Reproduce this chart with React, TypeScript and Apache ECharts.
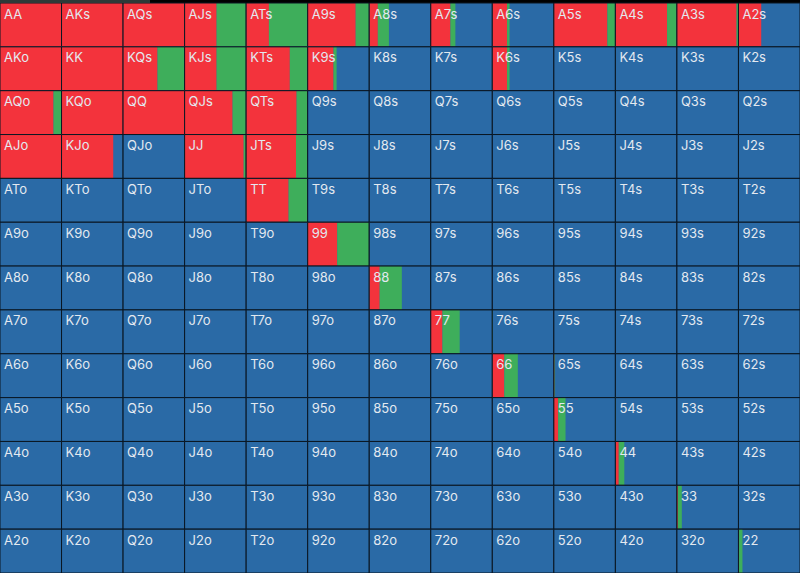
import React, { useEffect, useRef } from "react";
import * as echarts from "echarts";

const ranks = ["A", "K", "Q", "J", "T", "9", "8", "7", "6", "5", "4", "3", "2"];

// raise frequency per row (row = first rank index), columns = second rank index
const raiseRows: number[][] = [
  [1, 1, 1, 0.52, 0.37, 0.78, 0.14, 0.32, 0.24, 0.87, 0.84, 0.97, 0.37],
  [1, 1, 0.56, 0.52, 0.71, 0.42, 0, 0, 0.24, 0, 0, 0, 0],
  [0.87, 1, 1, 0.78, 0.82, 0, 0, 0, 0, 0, 0, 0, 0],
  [1, 0.84, 0, 0.96, 0.81, 0, 0, 0, 0, 0, 0, 0, 0],
  [0, 0, 0, 0, 0.69, 0, 0, 0, 0, 0, 0, 0, 0],
  [0, 0, 0, 0, 0, 0.48, 0, 0, 0, 0, 0, 0, 0],
  [0, 0, 0, 0, 0, 0, 0.17, 0, 0, 0, 0, 0, 0],
  [0, 0, 0, 0, 0, 0, 0, 0.19, 0, 0, 0, 0, 0],
  [0, 0, 0, 0, 0, 0, 0, 0, 0.195, 0.01, 0, 0, 0],
  [0, 0, 0, 0, 0, 0, 0, 0, 0, 0.07, 0, 0, 0],
  [0, 0, 0, 0, 0, 0, 0, 0, 0, 0, 0.055, 0, 0],
  [0, 0, 0, 0, 0, 0, 0, 0, 0, 0, 0, 0.015, 0],
  [0, 0, 0, 0, 0, 0, 0, 0, 0, 0, 0, 0, 0.01],
];

// call frequency
const callRows: number[][] = [
  [0, 0, 0, 0.48, 0.63, 0.22, 0.18, 0.08, 0.04, 0.13, 0.16, 0.03, 0],
  [0, 0, 0.44, 0.48, 0.29, 0.05, 0, 0, 0.04, 0, 0, 0, 0],
  [0.13, 0, 0, 0.22, 0.18, 0, 0, 0, 0, 0, 0, 0, 0],
  [0, 0, 0, 0.04, 0.19, 0, 0, 0, 0, 0, 0, 0, 0],
  [0, 0, 0, 0, 0.31, 0, 0, 0, 0, 0, 0, 0, 0],
  [0, 0, 0, 0, 0, 0.52, 0, 0, 0, 0, 0, 0, 0],
  [0, 0, 0, 0, 0, 0, 0.36, 0, 0, 0, 0, 0, 0],
  [0, 0, 0, 0, 0, 0, 0, 0.28, 0.01, 0, 0, 0, 0],
  [0, 0, 0, 0, 0, 0, 0, 0, 0.22, 0.01, 0, 0, 0],
  [0, 0, 0, 0, 0, 0, 0, 0, 0, 0.12, 0.01, 0, 0],
  [0, 0, 0, 0, 0, 0, 0, 0, 0, 0, 0.09, 0, 0],
  [0, 0, 0, 0, 0, 0, 0, 0, 0, 0, 0, 0.065, 0],
  [0, 0, 0, 0, 0, 0, 0, 0, 0, 0, 0, 0, 0.055],
];

const RED = "#f3333c";
const GREEN = "#3eae5b";
const BLUE = "#2a6aa6";
const LINE = "#0a1622";

function handLabel(row: number, col: number): string {
  if (row === col) return ranks[row] + ranks[col];
  if (col > row) return ranks[row] + ranks[col] + "s";
  return ranks[col] + ranks[row] + "o";
}

export default function App() {
  const ref = useRef<HTMLDivElement>(null);
  useEffect(() => {
    if (!ref.current) return;
    const chart = echarts.init(ref.current, null, { renderer: "svg" });
    const data: any[] = [];
    for (let r = 0; r < 13; r++) {
      for (let c = 0; c < 13; c++) {
        data.push([c, r, raiseRows[r][c], callRows[r][c], handLabel(r, c)]);
      }
    }
    chart.setOption({
      animation: false,
      backgroundColor: "#000000",
      grid: { left: 0, right: 0, top: 3, bottom: 0 },
      xAxis: { type: "category", data: ranks, show: false },
      yAxis: { type: "category", data: ranks, show: false, inverse: true },
      graphic: [
        { type: "rect", left: 0, top: 0, shape: { width: 150, height: 3 }, style: { fill: "#2d3a38" }, z: 10 },
      ],
      series: [
        {
          type: "custom",
          coordinateSystem: "cartesian2d",
          encode: { x: 0, y: 1 },
          data,
          renderItem: (params: any, api: any) => {
            const center = api.coord([api.value(0), api.value(1)]);
            const size = api.size([1, 1]);
            const w = size[0];
            const h = size[1];
            const x0 = center[0] - w / 2;
            const y0 = center[1] - h / 2;
            const raise = api.value(2) as number;
            const call = api.value(3) as number;
            const label = data[params.dataIndex][4];
            const rw = raise * w;
            const cw = call * w;
            return {
              type: "group",
              children: [
                { type: "rect", shape: { x: x0, y: y0, width: w, height: h }, style: { fill: BLUE } },
                { type: "rect", shape: { x: x0, y: y0, width: rw, height: h }, style: { fill: RED } },
                { type: "rect", shape: { x: x0 + rw, y: y0, width: cw, height: h }, style: { fill: GREEN } },
                {
                  type: "rect",
                  shape: { x: x0, y: y0, width: w, height: h },
                  style: { fill: "none", stroke: LINE, lineWidth: 1 },
                },
                {
                  type: "text",
                  x: x0 + 4,
                  y: y0 + 4,
                  style: {
                    text: label,
                    fill: "#e3e9f0",
                    font: "13px Inter, 'Noto Sans', sans-serif",
                    textVerticalAlign: "top",
                    textAlign: "left",
                  },
                },
              ],
            };
          },
        },
      ],
    });
    return () => chart.dispose();
  }, []);
  return (
    <div
      ref={ref}
      style={{ position: "fixed", left: 0, top: 0, width: 800, height: 573 }}
    />
  );
}
